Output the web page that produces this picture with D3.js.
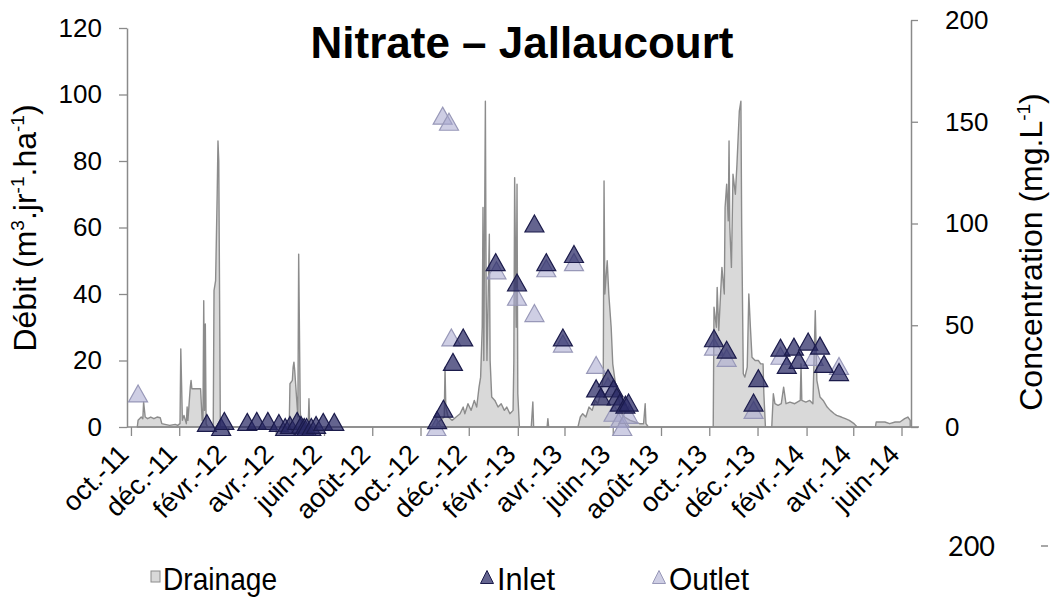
<!DOCTYPE html>
<html>
<head>
<meta charset="utf-8">
<script src="https://cdn.jsdelivr.net/npm/d3@7"></script>
<style>
  body { margin: 0; background: #fff; }
  svg { display: block; font-family: "Liberation Sans", Arial, sans-serif; }
</style>
</head>
<body>
<div id="chart"></div>
<script>
// Nitrate - Jallaucourt : drainage (left axis) + concentrations (right axis)

// drainage, m3/jr/ha  [date, value]
const drainage = [
  ["2011-10-09",0],["2011-10-10",2],["2011-10-14",3],["2011-10-16",2.5],["2011-10-17",7.5],["2011-10-19",3],
  ["2011-10-22",2.5],["2011-10-26",3],["2011-10-30",2.5],["2011-11-03",3],["2011-11-07",2.8],["2011-11-09",1],
  ["2011-11-13",0.8],["2011-11-19",0.5],["2011-11-26",0.8],["2011-11-29",0.5],["2011-12-02",1],["2011-12-03",23.5],
  ["2011-12-05",2],["2011-12-07",3.5],["2011-12-10",1],["2011-12-11",6],["2011-12-12",2],["2011-12-15",12],
  ["2011-12-16",14],["2011-12-17",11.5],["2011-12-28",11.5],["2011-12-30",2],["2011-12-31",2],["2012-01-01",38],
  ["2012-01-02",5],["2012-01-03",31],["2012-01-04",1],["2012-01-06",0],["2012-01-13",0],["2012-01-14",41],
  ["2012-01-16",44],["2012-01-18",70],["2012-01-19",86],["2012-01-20",80],["2012-01-21",40],["2012-01-22",0],
  ["2012-04-18",0],["2012-04-19",13],["2012-04-22",14],["2012-04-23",18],["2012-04-24",19.5],["2012-04-25",17],
  ["2012-04-27",10],["2012-04-29",3],["2012-04-30",52],["2012-05-02",5],["2012-05-03",0],["2012-05-12",0],
  ["2012-05-13",8.5],["2012-05-14",0],
  ["2012-10-21",0],["2012-10-22",1],["2012-10-26",2],["2012-10-31",3],["2012-11-01",18],["2012-11-02",6],
  ["2012-11-05",3],["2012-11-10",2],["2012-11-15",3],["2012-11-20",4],["2012-11-24",6],["2012-11-26",4],
  ["2012-11-30",7],["2012-12-04",5],["2012-12-08",8],["2012-12-11",6],["2012-12-14",12],["2012-12-16",15],
  ["2012-12-18",30],["2012-12-19",66],["2012-12-20",20],["2012-12-22",98],["2012-12-23",40],["2012-12-24",20],
  ["2012-12-27",58],["2012-12-28",20],["2012-12-30",9],["2013-01-03",8],["2013-01-07",6],["2013-01-11",7],
  ["2013-01-15",5],["2013-01-18",6],["2013-01-22",4],["2013-01-26",5],["2013-01-27",20],["2013-01-28",75],
  ["2013-01-30",30],["2013-01-31",73],["2013-02-01",10],["2013-02-03",0],["2013-02-18",0],["2013-02-20",7.5],
  ["2013-02-21",0],["2013-03-10",0],["2013-03-11",2.5],["2013-03-12",0],["2013-04-18",0],["2013-04-21",3],
  ["2013-04-24",4],["2013-04-28",3],["2013-05-02",6],["2013-05-06",5],["2013-05-10",8],["2013-05-13",7],
  ["2013-05-17",10],["2013-05-20",15],["2013-05-21",74],["2013-05-22",40],["2013-05-25",50],["2013-05-27",40],
  ["2013-05-30",30],["2013-06-01",19],["2013-06-05",12],["2013-06-09",8],["2013-06-13",4],["2013-06-16",3],
  ["2013-06-23",2],["2013-06-29",1.5],["2013-07-05",1],["2013-07-10",1],["2013-07-12",7],["2013-07-13",1],
  ["2013-07-16",0],
  ["2013-10-06",0],["2013-10-07",36],["2013-10-10",30],["2013-10-11",42],["2013-10-13",29],["2013-10-17",48],
  ["2013-10-20",40],["2013-10-21",66],["2013-10-23",73],["2013-10-25",62],["2013-10-26",86],["2013-10-27",60],
  ["2013-10-29",48],["2013-10-31",76],["2013-11-03",70],["2013-11-05",79],["2013-11-08",95],["2013-11-10",98],
  ["2013-11-11",60],["2013-11-13",16],["2013-11-15",15],["2013-11-18",18],["2013-11-20",40],["2013-11-22",30],
  ["2013-11-24",21],["2013-11-28",20],["2013-12-02",20],["2013-12-05",19],["2013-12-08",19],["2013-12-09",10],
  ["2013-12-11",0],["2013-12-19",0],["2013-12-21",10],["2013-12-23",7],["2013-12-27",6.5],["2013-12-31",7],
  ["2014-01-03",12],["2014-01-06",7],["2014-01-11",7.5],["2014-01-17",7],["2014-01-24",8],["2014-01-25",19],
  ["2014-01-26",8],["2014-01-31",7.5],["2014-02-05",8],["2014-02-09",7],["2014-02-12",35],["2014-02-14",14],
  ["2014-02-18",9],["2014-02-22",8],["2014-02-27",6],["2014-03-03",5],["2014-03-08",4],["2014-03-11",3.5],
  ["2014-03-17",3],["2014-03-22",2.5],["2014-03-27",2],["2014-04-02",1],["2014-04-06",0],["2014-04-29",0],
  ["2014-04-30",1.5],["2014-05-11",1.5],["2014-05-17",1],["2014-05-24",1.5],["2014-05-30",1.5],["2014-06-05",2.5],
  ["2014-06-09",3],["2014-06-12",2]
];

// nitrate concentration at inlet, mg/L
const inlet = [
  ["2012-01-05",2],["2012-01-23",0],["2012-01-27",3],["2012-02-25",2.5],["2012-03-08",3],["2012-03-22",3],
  ["2012-04-05",2],["2012-04-13",0],["2012-04-19",1],["2012-04-28",3],["2012-05-03",1],["2012-05-07",0],
  ["2012-05-10",0],["2012-05-16",0],["2012-05-22",1],["2012-05-31",2.5],["2012-06-14",2.5],
  ["2012-10-22",3.4],["2012-10-30",9],["2012-11-11",32],["2012-11-24",44],["2013-01-04",81],["2013-01-31",71],
  ["2013-02-22",100],["2013-03-09",81],["2013-03-30",44],["2013-04-13",85],["2013-05-11",19],["2013-05-17",15],
  ["2013-05-26",24],["2013-06-02",19],["2013-06-06",15],["2013-06-10",12],["2013-06-17",11],["2013-06-21",12],
  ["2013-10-07",43.6],["2013-10-23",38],["2013-11-26",12],["2013-12-02",24],["2013-12-30",39],["2014-01-07",30.5],
  ["2014-01-16",39.5],["2014-01-22",33],["2014-02-03",42],["2014-02-18",40],["2014-02-23",31],["2014-03-14",27]
];

// nitrate concentration at outlet, mg/L
const outlet = [
  ["2011-10-10",16.5],["2012-10-21",0],["2012-10-29",153],["2012-11-06",150],["2012-11-09",44],["2013-01-05",77],
  ["2013-01-31",64],["2013-02-22",56],["2013-03-09",78],["2013-03-30",41],["2013-04-13",81],["2013-05-11",30.5],
  ["2013-05-26",20],["2013-06-02",7],["2013-06-10",4],["2013-06-13",0],["2013-06-21",6],["2013-10-07",39.5],
  ["2013-10-23",34],["2013-11-26",8.4],["2013-12-30",35],["2014-02-10",34.5],["2014-03-14",30]
];

const monthLabels = ["oct.-11","déc.-11","févr.-12","avr.-12","juin-12","août-12","oct.-12","déc.-12","févr.-13",
  "avr.-13","juin-13","août-13","oct.-13","déc.-13","févr.-14","avr.-14","juin-14"];
const leftTicks = [0, 20, 40, 60, 80, 100, 120];
const rightTicks = [0, 50, 100, 150, 200];
const legendItems = ["Drainage", "Inlet", "Outlet"];

const W = 1050, H = 603;
const parse = d3.timeParse("%Y-%m-%d");
const axisCol = "#8a8a8a";

const svg = d3.select("#chart").append("svg")
    .attr("width", W).attr("height", H);

const x = d3.scaleTime()
    .domain([parse("2011-09-26"), parse("2014-06-13")])
    .range([127, 911]);
const yL = d3.scaleLinear().domain([0, 120]).range([427, 28]);
const yR = d3.scaleLinear().domain([0, 200]).range([427, 20]);

const drain = drainage.map(d => ({ date: parse(d[0]), v: d[1] }));
const inl = inlet.map(d => ({ date: parse(d[0]), v: d[1] }));
const outl = outlet.map(d => ({ date: parse(d[0]), v: d[1] }));

// triangle marker, centred on its box
function tri(w, h) {
    return `M0,${-h/2}L${w/2},${h/2}L${-w/2},${h/2}Z`;
}

// drainage area
const area = d3.area()
    .x(d => x(d.date))
    .y0(yL(0))
    .y1(d => yL(d.v));

svg.append("path")
    .datum(drain)
    .attr("d", area)
    .attr("fill", "#d9d9d9")
    .attr("stroke", "#8c8c8c")
    .attr("stroke-width", 1.4)
    .attr("stroke-linejoin", "round");

// axes
const ticksX = d3.timeMonth.range(parse("2011-10-01"), parse("2014-07-01"), 2);

const xAxis = svg.append("g")
    .attr("transform", `translate(0,${yL(0)})`)
    .call(d3.axisBottom(x).tickValues(ticksX).tickSize(9).tickFormat((d, i) => monthLabels[i]));
xAxis.select(".domain").attr("stroke", axisCol).attr("stroke-width", 1.5)
    .attr("d", `M127,0H919`);
xAxis.selectAll(".tick line").attr("stroke", axisCol).attr("stroke-width", 1.3);
xAxis.selectAll(".tick text")
    .attr("font-size", 27)
    .attr("fill", "#000")
    .attr("text-anchor", "end")
    .attr("transform", "translate(-1,29) rotate(-45)")
    .attr("dy", 0).attr("y", 0).attr("x", 0);

const leftAxis = svg.append("g")
    .attr("transform", "translate(127,0)")
    .call(d3.axisLeft(yL).tickValues(leftTicks).tickSize(8).tickPadding(17).tickSizeOuter(0));
leftAxis.select(".domain").attr("stroke", axisCol).attr("stroke-width", 1.5);
leftAxis.selectAll(".tick line").attr("stroke", axisCol).attr("stroke-width", 1.3);
leftAxis.selectAll(".tick text").attr("font-size", 26).attr("fill", "#000");

const rightAxis = svg.append("g")
    .attr("transform", "translate(911,0)")
    .call(d3.axisRight(yR).tickValues(rightTicks).tickSize(7).tickPadding(27).tickSizeOuter(0));
rightAxis.select(".domain").attr("stroke", axisCol).attr("stroke-width", 1.5);
rightAxis.selectAll(".tick line").attr("stroke", axisCol).attr("stroke-width", 1.3);
rightAxis.selectAll(".tick text").attr("font-size", 26).attr("fill", "#000");

// markers: outlet under inlet
svg.append("g").selectAll("path")
    .data(outl)
    .join("path")
    .attr("d", tri(19, 17))
    .attr("transform", d => `translate(${x(d.date)},${yR(d.v)})`)
    .attr("fill", "rgba(165,165,205,0.55)")
    .attr("stroke", "#9898b8")
    .attr("stroke-width", 1.2);

svg.append("g").selectAll("path")
    .data(inl)
    .join("path")
    .attr("d", tri(19, 17))
    .attr("transform", d => `translate(${x(d.date)},${yR(d.v)})`)
    .attr("fill", "rgba(40,40,100,0.72)")
    .attr("stroke", "#1b1b4b")
    .attr("stroke-width", 1.2);

// titles
svg.append("text")
    .attr("x", 522).attr("y", 58)
    .attr("text-anchor", "middle")
    .attr("font-size", 44).attr("font-weight", "bold")
    .text("Nitrate – Jallaucourt");

const ltitle = svg.append("text")
    .attr("transform", "translate(36,228) rotate(-90)")
    .attr("text-anchor", "middle")
    .attr("font-size", 32);
ltitle.append("tspan").text("Débit (m");
ltitle.append("tspan").attr("font-size", 19).attr("dy", -12).text("3");
ltitle.append("tspan").attr("dy", 12).text(".jr");
ltitle.append("tspan").attr("font-size", 19).attr("dy", -12).text("-1");
ltitle.append("tspan").attr("dy", 12).text(".ha");
ltitle.append("tspan").attr("font-size", 19).attr("dy", -12).text("-1");
ltitle.append("tspan").attr("dy", 12).text(")");

const rtitle = svg.append("text")
    .attr("transform", "translate(1042,252) rotate(-90)")
    .attr("text-anchor", "middle")
    .attr("font-size", 32);
rtitle.append("tspan").text("Concentration (mg.L");
rtitle.append("tspan").attr("font-size", 19).attr("dy", -12).text("-1");
rtitle.append("tspan").attr("dy", 12).text(")");

// stray label at bottom right
svg.append("text")
    .attr("x", 948).attr("y", 556)
    .attr("font-family", "Lato, 'Open Sans', sans-serif")
    .attr("font-size", 27)
    .text("200");
svg.append("line")
    .attr("x1", 1041).attr("x2", 1048).attr("y1", 546).attr("y2", 546)
    .attr("stroke", axisCol).attr("stroke-width", 1.5);

// legend
const lg = svg.append("g").attr("font-size", 32);
const legX = [151, 480, 652];

lg.append("rect")
    .attr("x", legX[0]).attr("y", 571).attr("width", 9).attr("height", 11)
    .attr("fill", "#d9d9d9").attr("stroke", "#8c8c8c");
lg.append("path").attr("d", tri(13, 13))
    .attr("transform", `translate(${legX[1] + 7},${577})`)
    .attr("fill", "rgba(40,40,100,0.72)").attr("stroke", "#1b1b4b");
lg.append("path").attr("d", tri(13, 13))
    .attr("transform", `translate(${legX[2] + 7},${577})`)
    .attr("fill", "rgba(165,165,205,0.55)").attr("stroke", "#9898b8");

const legW = [114, 58, 80];
lg.selectAll(".leg-text")
    .data(legendItems)
    .join("text")
    .attr("x", (d, i) => legX[i] + (i == 0 ? 12 : 17))
    .attr("y", 590)
    .attr("textLength", (d, i) => legW[i])
    .attr("lengthAdjust", "spacingAndGlyphs")
    .text(d => d);
</script>
</body>
</html>
